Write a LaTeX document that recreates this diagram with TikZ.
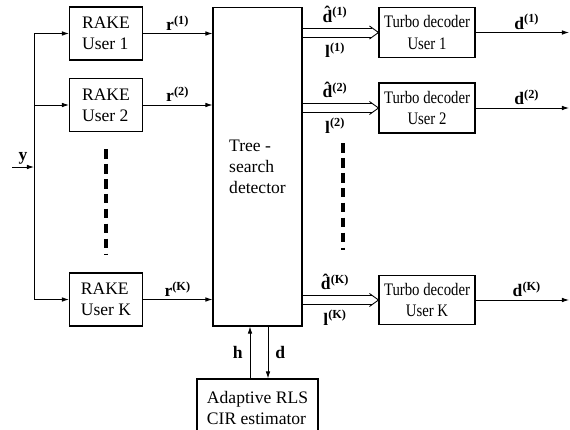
\documentclass[tikz,border=0pt]{standalone}
\usepackage{fontspec}
\setmainfont{Liberation Serif}
\newfontfamily\narrowfont[FakeStretch=0.84]{Liberation Serif}
\usetikzlibrary{arrows.meta,calc,positioning}
\tikzset{
  blk/.style={draw, line width=0.6pt, align=left, inner sep=2pt},
  arr/.style={-{Latex[length=4pt,width=2.6pt]}, line width=0.5pt},
  lbl/.style={inner sep=1.5pt, font=\fontsize{10}{12}\selectfont\bfseries},
  vdots/.style={line width=2.3pt, dash pattern=on 5.5pt off 3pt}
}
\newcommand{\sups}[2]{\textbf{#1\textsuperscript{(#2)}}}

\begin{document}
\begin{tikzpicture}[x=0.02cm, y=-0.02cm, font=\fontsize{10}{12}\selectfont]
	\useasboundingbox (0,0) rectangle (570,429);
	% RAKE receivers
	\node[blk, minimum width=1.46cm, minimum height=1.06cm] (rake1) at (106,33.5) {RAKE\\User 1};
	\node[blk, minimum width=1.46cm, minimum height=1.06cm] (rake2) at (106,105) {RAKE\\User 2};
	\node[blk, minimum width=1.46cm, minimum height=1.06cm] (rakeK) at (106,299.5) {RAKE\\User K};
	% detector
	\node[blk, minimum width=1.78cm, minimum height=6.38cm] (det) at (257.5,166.5) {Tree -\\search\\detector};
	% turbo decoders
	\node[blk, align=center, font=\fontsize{10}{12}\narrowfont, minimum width=1.92cm, minimum height=1.0cm] (turbo1) at (427,32.5) {Turbo decoder\\User 1};
	\node[blk, align=center, font=\fontsize{10}{12}\narrowfont, minimum width=1.92cm, minimum height=1.0cm] (turbo2) at (427,108) {Turbo decoder\\User 2};
	\node[blk, align=center, font=\fontsize{10}{12}\narrowfont, minimum width=1.92cm, minimum height=0.98cm] (turboK) at (427,300) {Turbo decoder\\User K};
	% channel estimator
	\node[blk, minimum width=2.42cm, minimum height=1.16cm] (rls) at (257.5,408) {Adaptive RLS\\CIR estimator};

	\coordinate (in) at (12,167);
	\coordinate (bus) at (34,167);
	\coordinate (out) at (569,0);
	\coordinate (hx) at (250,0);
	\coordinate (dx) at (268,0);

	% input bus
	\draw[arr] (in) -- (bus) node[lbl, midway, above] (ylbl) {y};
	\draw[line width=0.5pt] (bus|-rake1.west) -- (bus|-rakeK.west);
	\foreach \i in {1,2,K} {
		\draw[arr] (bus|-rake\i.west) -- (rake\i.west);
		\draw[arr] (rake\i.east) -- (rake\i.east-|det.west) node[lbl, midway, above] (r\i) {\sups{r}{\i}};
		% soft outputs: double line with open head
		\draw[line width=0.5pt] ($(det.east|-turbo\i.west)+(0,-4.5)$) -- ($(turbo\i.west)+(-6.2,-4.5)$);
		\draw[line width=0.5pt] ($(det.east|-turbo\i.west)+(0,4.5)$) -- ($(turbo\i.west)+(-6.2,4.5)$);
		\draw[line width=0.5pt] ($(turbo\i.west)+(-9,-6.5)$) -- (turbo\i.west) -- ($(turbo\i.west)+(-9,6.5)$);
		\node[lbl, above, inner sep=3pt] (dh\i) at ($(det.east|-turbo\i.west)!0.43!(turbo\i.west)+(0,-4.5)$) {\sups{\^{d}}{\i}};
		\node[lbl, below, inner sep=3pt] (l\i) at ($(det.east|-turbo\i.west)!0.43!(turbo\i.west)+(0,4.5)$) {\sups{l}{\i}};
		\draw[arr] (turbo\i.east) -- (turbo\i.east-|out) node[lbl, pos=0.55, above] (d\i) {\sups{d}{\i}};
	}

	% dots
	\draw[vdots] (106,149) -- (106,254);
	\draw[vdots] (343,143) -- (343,250);

	% estimator links
	\draw[arr] (hx|-rls.north) -- (hx|-det.south) node[lbl, midway, left, inner sep=4pt] (hlbl) {h};
	\draw[arr] (dx|-det.south) -- (dx|-rls.north) node[lbl, midway, right, inner sep=4pt] (dlbl) {d};
\end{tikzpicture}
\end{document}
